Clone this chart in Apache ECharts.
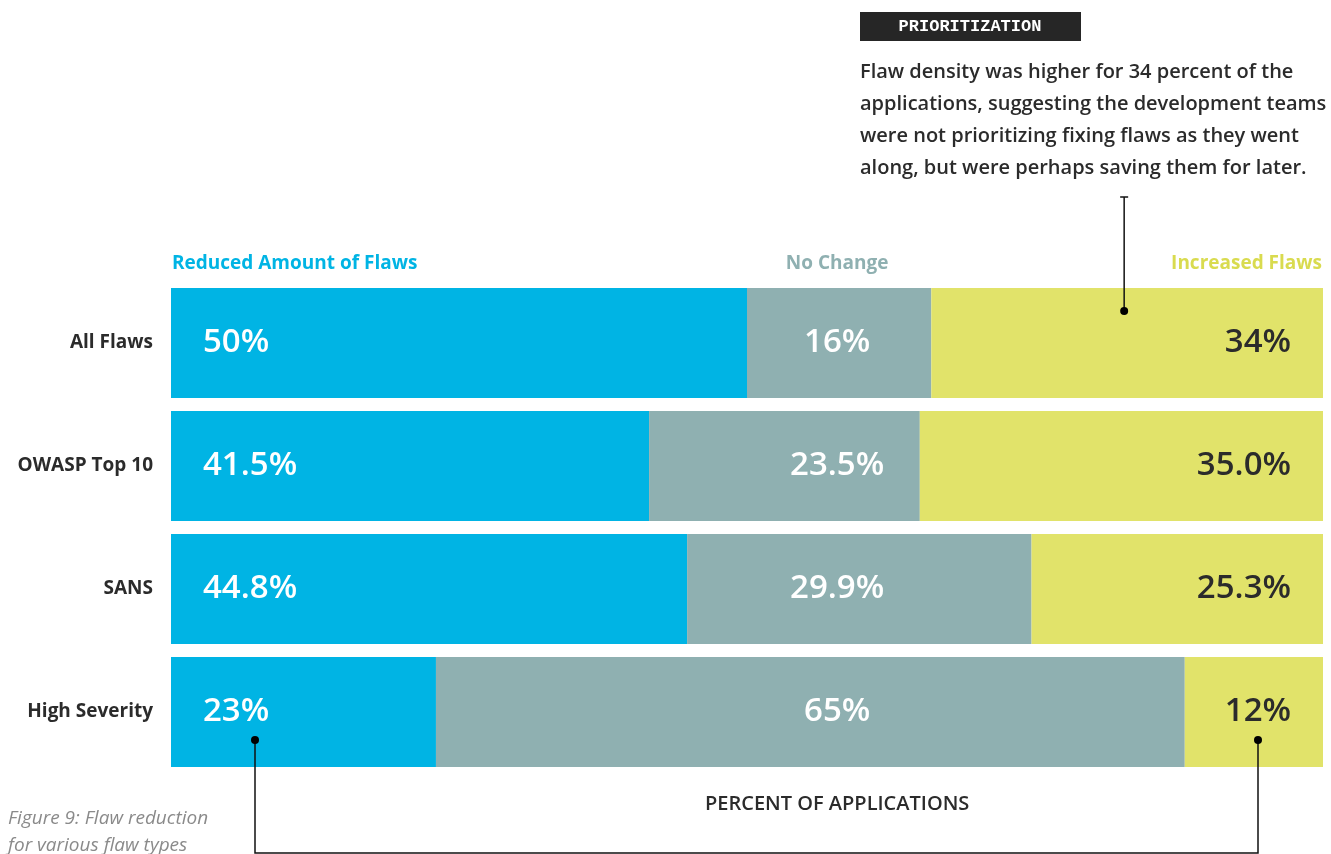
<!DOCTYPE html>
<html>
<head>
<meta charset="utf-8">
<script src="https://cdn.jsdelivr.net/npm/echarts@6/dist/echarts.min.js"></script>
<style>
html,body{margin:0;padding:0;background:#fff;}
#c{width:1331px;height:854px;}
</style>
</head>
<body>
<div id="c"></div>
<script>
const categories = ['All Flaws', 'OWASP Top 10', 'SANS', 'High Severity'];
const reduced = [50, 41.5, 44.8, 23];
const noChange = [16, 23.5, 29.9, 65];
const increased = [34, 35.0, 25.3, 12];
const reducedLabels = ['50%', '41.5%', '44.8%', '23%'];
const noChangeLabels = ['16%', '23.5%', '29.9%', '65%'];
const increasedLabels = ['34%', '35.0%', '25.3%', '12%'];
const seriesNames = ['Reduced Amount of Flaws', 'No Change', 'Increased Flaws'];
const axisTitle = 'PERCENT OF APPLICATIONS';
const noteTitle = 'PRIORITIZATION';
const noteLines = [
  'Flaw density was higher for 34 percent of the',
  'applications, suggesting the development teams',
  'were not prioritizing fixing flaws as they went',
  'along, but were perhaps saving them for later.'
];
const captionLines = ['Figure 9: Flaw reduction', 'for various flaw types'];

const FONT = '"Open Sans", "Noto Sans", sans-serif';
const BLUE = '#00b4e4', GREY = '#8fb0b1', YELLOW = '#e1e36a', DARK = '#2b2b2b';

const chart = echarts.init(document.getElementById('c'), null, {renderer: 'canvas'});

function lbl(arr, pos, color, dist) {
  return {
    show: true, position: pos, distance: dist,
    color: color, fontFamily: FONT, fontSize: 33, fontWeight: 600,
    formatter: p => arr[p.dataIndex]
  };
}

const option = {
  animation: false,
  backgroundColor: '#fff',
  grid: {left: 171, right: 8, top: 281.5, bottom: 80.5, containLabel: false},
  xAxis: {
    type: 'value', min: 0, max: 100, show: false
  },
  yAxis: {
    type: 'category', data: categories, inverse: true,
    axisLine: {show: false}, axisTick: {show: false},
    axisLabel: {margin: 18, fontFamily: FONT, fontSize: 19, fontWeight: 700, color: DARK}
  },
  series: [
    {name: seriesNames[0], type: 'bar', stack: 't', data: reduced, barWidth: 110,
     itemStyle: {color: BLUE}, label: lbl(reducedLabels, 'insideLeft', '#fff', 32)},
    {name: seriesNames[1], type: 'bar', stack: 't', data: noChange, barWidth: 110,
     itemStyle: {color: GREY}, label: lbl(noChangeLabels, 'inside', '#fff', 0)},
    {name: seriesNames[2], type: 'bar', stack: 't', data: increased, barWidth: 110,
     itemStyle: {color: YELLOW}, label: lbl(increasedLabels, 'insideRight', DARK, 32)}
  ]
};
chart.setOption(option);

const p = (x, cat) => chart.convertToPixel({seriesIndex: 0}, [x, cat]);

// Middle labels all aligned under the "No Change" header
const midX = p(reduced[0] + noChange[0] / 2, 0)[0] - 2;
chart.setOption({
  series: [{}, {
    data: noChange.map((v, i) => ({
      value: v,
      label: {offset: [midX - p(reduced[i] + v / 2, i)[0], 0]}
    }))
  }, {}]
});

const hsY = p(0, 3)[1];
const afY = p(0, 0)[1];
const xStart = p(0, 3)[0];
const xEnd = p(100, 3)[0];
const dotL = [xStart + 84, hsY + 28];
const dotR = [xEnd - 65, hsY + 28];
const dotT = [p(reduced[0] + noChange[0] + increased[0] / 2, 0)[0] - 3, afY - 32];
const lineBottom = 853;

const lineStyle = {stroke: '#111', lineWidth: 1.5};
const Z = 100;
const graphics = [
  {type: 'text', z: Z, x: 172, y: 264, style: {text: seriesNames[0], fill: BLUE, font: '700 19px ' + FONT, textVerticalAlign: 'middle'}},
  {type: 'text', z: Z, x: midX, y: 264,
   style: {text: seriesNames[1], fill: GREY, font: '700 19px ' + FONT, textAlign: 'center', textVerticalAlign: 'middle'}},
  {type: 'text', z: Z, x: 1322, y: 264, style: {text: seriesNames[2], fill: '#d9db4f', font: '700 19px ' + FONT, textAlign: 'right', textVerticalAlign: 'middle'}},
  {type: 'text', z: Z, x: midX, y: 804, style: {text: axisTitle, fill: DARK, font: '600 20px ' + FONT, textAlign: 'center', textVerticalAlign: 'middle'}},
  {type: 'rect', z: Z, shape: {x: 860, y: 12, width: 221, height: 29}, style: {fill: '#262626'}},
  {type: 'text', z: Z + 1, x: 970, y: 27, style: {text: noteTitle, fill: '#fff', font: '700 17px "Liberation Mono", "DejaVu Sans Mono", monospace', textAlign: 'center', textVerticalAlign: 'middle'}},
  {type: 'text', z: Z, x: 8, y: 819, style: {text: captionLines[0], fill: '#8a8a8a', font: 'italic 19px ' + FONT, textVerticalAlign: 'middle'}},
  {type: 'text', z: Z, x: 8, y: 846, style: {text: captionLines[1], fill: '#8a8a8a', font: 'italic 19px ' + FONT, textVerticalAlign: 'middle'}},
  {type: 'polyline', z: Z, shape: {points: [[dotT[0], 197], [dotT[0], dotT[1]]]}, style: lineStyle},
  {type: 'line', z: Z, shape: {x1: dotT[0] - 4, y1: 197, x2: dotT[0] + 4, y2: 197}, style: lineStyle},
  {type: 'circle', z: Z, shape: {cx: dotT[0], cy: dotT[1], r: 4}, style: {fill: '#000'}},
  {type: 'polyline', z: Z, shape: {points: [[dotL[0], dotL[1]], [dotL[0], lineBottom], [dotR[0], lineBottom], [dotR[0], dotR[1]]]}, style: lineStyle},
  {type: 'circle', z: Z, shape: {cx: dotL[0], cy: dotL[1], r: 4}, style: {fill: '#000'}},
  {type: 'circle', z: Z, shape: {cx: dotR[0], cy: dotR[1], r: 4}, style: {fill: '#000'}}
];
noteLines.forEach((t, i) => {
  graphics.push({type: 'text', z: Z, x: 860, y: 72 + i * 32,
    style: {text: t, fill: DARK, font: '600 20px ' + FONT, textVerticalAlign: 'middle'}});
});
chart.setOption({graphic: graphics});
</script>
</body>
</html>
